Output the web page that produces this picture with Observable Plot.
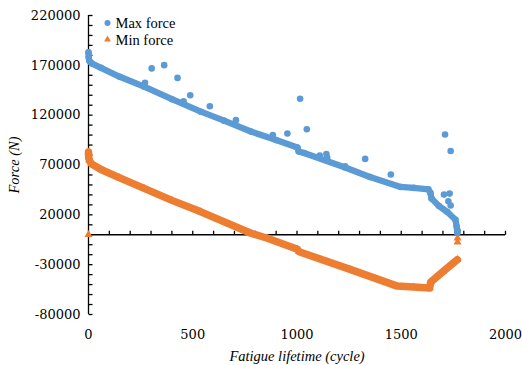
<!DOCTYPE html>
<html><head><meta charset="utf-8">
<script src="https://cdn.jsdelivr.net/npm/d3@7"></script>
<script src="https://cdn.jsdelivr.net/npm/@observablehq/plot@0.6"></script>
<style>
body{margin:0;background:#fff;}
#chart{position:relative;width:522px;height:365px;}
g[aria-label="y-axis label"] text, g[aria-label="x-axis label"] text{font-style:italic;font-family:"Liberation Serif",serif;font-size:14.5px;}
</style></head><body><div id="chart"></div>
<script>
// ---- data ----
const xTicks = [0, 500, 1000, 1500, 2000];
const yTicks = [-80000, -30000, 20000, 70000, 120000, 170000, 220000];
const xMinor = [100,200,300,400,500,600,700,800,900,1000,1100,1200,1300,1400,1500,1600,1700,1800,1900,2000];
const yMinor = [-80000,-70000,-60000,-50000,-40000,-30000,-20000,-10000,0,10000,20000,30000,40000,50000,60000,70000,80000,90000,100000,110000,120000,130000,140000,150000,160000,170000,180000,190000,200000,210000,220000];

// Max force: dense band of points (cycle, N)
const maxCycle = [0, 1, 4, 15, 60, 150, 267, 400, 539, 650, 779, 900, 1002, 1008, 1034, 1231, 1350, 1497, 1560, 1630, 1640, 1645, 1680, 1720, 1760, 1766, 1769];
const maxForce = [183000, 178000, 174500, 172000, 167500, 158500, 148600, 136000, 123500, 114500, 103600, 95000, 87500, 83500, 82000, 67500, 58000, 48000, 47000, 45500, 42000, 36500, 29000, 23000, 15000, 8000, 2000];
// Max force: scattered points off the band
const maxOutCycle = [271, 303, 363, 427, 456, 488, 582, 707, 884, 954, 1015, 1047, 1109, 1141, 1145, 1231, 1327, 1450, 1705, 1710, 1726, 1732, 1737, 1737, 1771];
const maxOutForce = [152400, 166900, 170200, 157400, 134000, 140000, 129000, 115000, 100000, 101600, 136400, 105900, 79500, 81100, 77100, 68800, 76100, 60400, 40300, 100600, 33600, 41300, 29300, 84100, 4000];

// Min force: dense band of points
const minCycle = [0, 1, 4, 15, 60, 150, 267, 400, 539, 779, 858, 1002, 1010, 1258, 1481, 1560, 1636, 1641, 1700, 1769];
const minForce = [83000, 78000, 74500, 71000, 65500, 57000, 46500, 34500, 23000, 1500, -3500, -14500, -17000, -35000, -51500, -52500, -53500, -47500, -37000, -25000];
// Min force: scattered points
const minOutCycle = [0, 1770, 1770];
const minOutForce = [0, -3500, -7500];

const blue = "#5B9BD5", orange = "#ED7D31";
const toRows = (xs, ys) => xs.map((x, i) => ({x, y: ys[i]}));
const maxBand = toRows(maxCycle, maxForce);
const maxOut = toRows(maxOutCycle, maxOutForce);
const minBand = toRows(minCycle, minForce);
const minOut = toRows(minOutCycle, minOutForce);

const tickRight = {draw(ctx){ctx.moveTo(0,0); ctx.lineTo(4,0);}};
const tickUp = {draw(ctx){ctx.moveTo(0,0); ctx.lineTo(0,-4);}};

const plot = Plot.plot({
  width: 522, height: 365,
  marginLeft: 88, marginRight: 17, marginTop: 15, marginBottom: 51,
  style: {fontFamily: "DejaVu Serif", fontSize: "13px", color: "#000", background: "#fff"},
  x: {domain: [0, 2000]},
  y: {domain: [-80000, 220000]},
  marks: [
    Plot.axisX({ticks: xTicks, tickSize: 0, tickPadding: 15, tickFormat: d => String(d),
      label: "Fatigue lifetime (cycle)", labelAnchor: "center", labelArrow: "none", labelOffset: 46}),
    Plot.axisY({ticks: yTicks, tickSize: 0, tickPadding: 8, tickFormat: d => String(d),
      label: "Force (N)", labelAnchor: "center", labelArrow: "none", labelOffset: 80}),
    Plot.ruleX([0], {stroke: "#000", strokeWidth: 1.3}),
    Plot.ruleY([0], {stroke: "#000", strokeWidth: 1.3}),
    Plot.dot(yMinor, {x: () => 0, y: d => d, symbol: tickRight, stroke: "#000", fill: "none", strokeWidth: 1.3}),
    Plot.dot(xMinor, {x: d => d, y: () => 0, symbol: tickUp, stroke: "#000", fill: "none", strokeWidth: 1.3}),
    Plot.line(minBand, {x: "x", y: "y", stroke: orange, strokeWidth: 7.5, strokeLinejoin: "round", strokeLinecap: "round"}),
    Plot.dot(minBand, {x: "x", y: "y", symbol: "triangle", r: 3, fill: orange}),
    Plot.dot(minOut, {x: "x", y: "y", symbol: "triangle", r: 3, fill: orange}),
    Plot.line(maxBand, {x: "x", y: "y", stroke: blue, strokeWidth: 6.3, strokeLinejoin: "round", strokeLinecap: "round"}),
    Plot.dot(maxBand, {x: "x", y: "y", r: 3.3, fill: blue}),
    Plot.dot(maxOut, {x: "x", y: "y", r: 3.3, fill: blue})
  ]
});
document.getElementById("chart").appendChild(plot);

// legend
const ns = "http://www.w3.org/2000/svg";
const lg = document.createElementNS(ns, "g");
lg.setAttribute("font-family", "Liberation Serif, serif");
lg.setAttribute("font-size", "14.5");
lg.setAttribute("text-anchor", "start");
const items = [
  {label: "Max force", color: blue, shape: "circle", cy: 23},
  {label: "Min force", color: orange, shape: "triangle", cy: 39.5}
];
for (const it of items) {
  let m;
  if (it.shape === "circle") {
    m = document.createElementNS(ns, "circle");
    m.setAttribute("cx", 107.5); m.setAttribute("cy", it.cy); m.setAttribute("r", 3);
  } else {
    m = document.createElementNS(ns, "path");
    m.setAttribute("d", d3.symbol(d3.symbolTriangle, 20)());
    m.setAttribute("transform", `translate(107.5,${it.cy})`);
  }
  m.setAttribute("fill", it.color);
  lg.appendChild(m);
  const t = document.createElementNS(ns, "text");
  t.setAttribute("x", 115.5); t.setAttribute("y", it.cy + 5);
  t.setAttribute("text-anchor", "start");
  t.textContent = it.label;
  lg.appendChild(t);
}
plot.appendChild(lg);
</script></body></html>
